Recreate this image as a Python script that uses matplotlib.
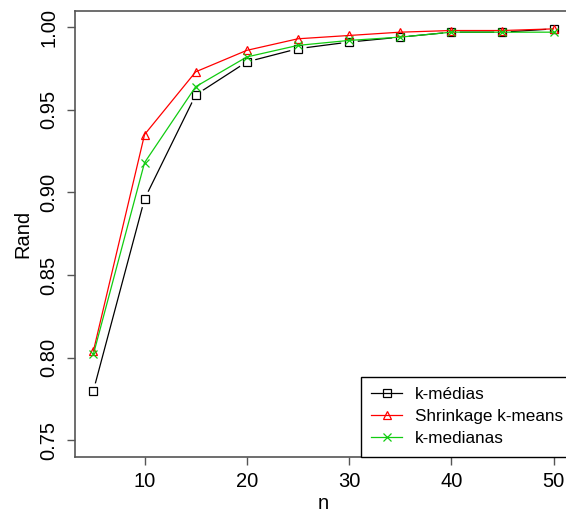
import numpy as np
import matplotlib
matplotlib.use("Agg")
from matplotlib import pyplot as plt

plt.rcParams["font.family"] = ["Liberation Sans", "DejaVu Sans"]

# Data
n = [5, 10, 15, 20, 25, 30, 35, 40, 45, 50]
k_medias = [0.780, 0.896, 0.959, 0.979, 0.987, 0.991, 0.994, 0.997, 0.997, 0.999]
shrinkage = [0.804, 0.935, 0.973, 0.986, 0.993, 0.995, 0.997, 0.998, 0.998, 0.999]
k_medianas = [0.802, 0.918, 0.964, 0.982, 0.989, 0.992, 0.994, 0.997, 0.997, 0.997]
labels = ["k-médias", "Shrinkage k-means", "k-medianas"]
xticks = [10, 20, 30, 40, 50]
yticks = [0.75, 0.80, 0.85, 0.90, 0.95, 1.00]

W, H = 566, 517
fig = plt.figure(figsize=(W / 100, H / 100), dpi=100)
ax = fig.add_axes([75 / W, (H - 456.7) / H, 497 / W, 446 / H])

kw = {"lw": 0.9, "ms": 6, "mfc": "none", "mew": 0.9}
# black series: R type="b", lines stop short of the points
ax.plot(n, k_medias, c="black", lw=0.9, zorder=2)
ax.plot(n, k_medias, ls="none", marker="o", ms=12, mfc="white", mec="none", zorder=2.1)
ax.plot(n, k_medias, c="black", marker="s", ls="none", ms=6, mfc="none", mew=0.9, zorder=2.2)
ax.plot([], [], c="black", marker="s", label=labels[0], **kw)
ax.plot(n, shrinkage, c="#ff0000", marker="^", label=labels[1], zorder=3, **kw)
ax.plot(n, k_medianas, c="#11cc11", marker="x", label=labels[2], zorder=3, **kw)

ax.set_xlim(3.2, 51.8)
ax.set_ylim(0.74, 1.01)
ax.set_xticks(xticks)
ax.set_yticks(yticks)
ax.set_yticklabels([f"{v:.2f}" for v in yticks], rotation=90, va="center")
ax.tick_params(direction="out", length=6, width=1, colors="#555555",
               labelcolor="black", labelsize=14.5)
ax.tick_params(axis="x", pad=5)
ax.tick_params(axis="y", pad=6)
for s in ax.spines.values():
    s.set_color("#555555")
    s.set_linewidth(1.2)

ax.set_xlabel("n", fontsize=14.5, labelpad=2)
ax.set_ylabel("Rand", fontsize=14.5, labelpad=5)

leg = ax.legend(loc="lower left", bbox_to_anchor=(286 / 497, 0), borderaxespad=0,
                fancybox=False, edgecolor="black", fontsize=12.3,
                handlelength=1.8, handletextpad=0.75, labelspacing=0.42,
                borderpad=0.6, framealpha=1)
leg.get_frame().set_linewidth(1)

fig.savefig("out.png", dpi=100)
